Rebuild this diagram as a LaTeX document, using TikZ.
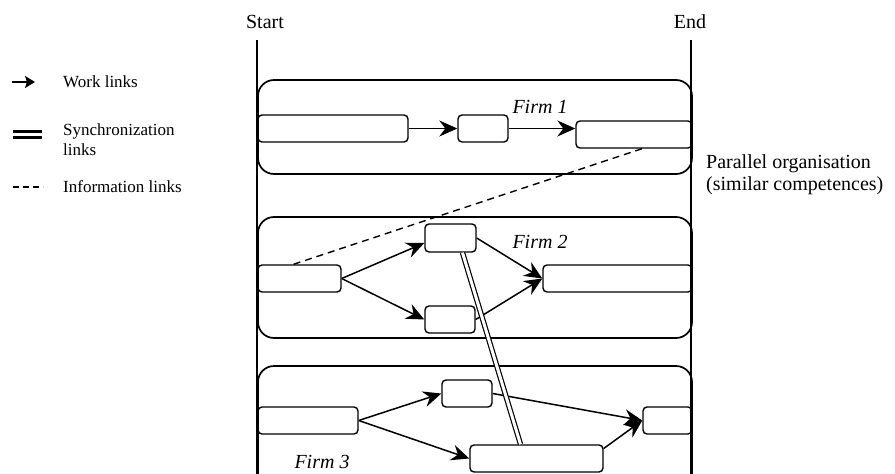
\documentclass[tikz,border=0pt]{standalone}
\usepackage{fontspec}
\setmainfont{Liberation Serif}
\usetikzlibrary{arrows.meta}

\begin{document}
\begin{tikzpicture}[x=1pt, y=-1pt,
    firm/.style = {draw, line width=1.7pt, rounded corners=16pt},
    task/.style = {draw, line width=1.4pt, rounded corners=4pt, minimum height=27pt, inner sep=0pt},
    work/.style = {line width=1.5pt, -{Stealth[length=18pt, width=16pt, inset=6pt]}},
    sync/.style = {double, double distance=3pt, line width=1.2pt},
    info/.style = {line width=1.4pt, dash pattern=on 7pt off 5pt},
    lbl/.style = {font=\fontsize{17}{20}\selectfont, align=left, anchor=west, inner sep=0pt},
    big/.style = {font=\fontsize{20}{22}\selectfont, inner sep=0pt},
    firmlbl/.style = {font=\fontsize{20}{22}\selectfont\itshape, inner sep=0pt}]
    \useasboundingbox (0,0) rectangle (895,474);
    \clip (0,0) rectangle (895,474);

    \draw[firm] (258,80) rectangle (692,174);
    \draw[firm] (258,217) rectangle (692,338);
    \draw[firm] (258,366) rectangle (692,510);

    \node[big](start) at (265,22) {Start};
    \node[big](end) at (690,22) {End};
    \coordinate (s1) at (257,40);
    \coordinate (s2) at (257,474);
    \coordinate (e1) at (691,40);
    \coordinate (e2) at (691,474);
    \draw[line width=2.2pt] (s1) -- (s2);
    \draw[line width=2.2pt] (e1) -- (e2);

    \node[task, minimum width=150pt](a1) at (333,128.5) {};
    \node[task, minimum width=50pt](a2) at (483,128.5) {};
    \node[task, minimum width=116pt](a3) at (634,134.5) {};
    \node[firmlbl](f1) at (540,107) {Firm 1};

    \node[task, minimum width=83pt](b1) at (299.5,278.5) {};
    \node[task, minimum width=51pt, minimum height=28pt](b2) at (450.5,238) {};
    \node[task, minimum width=50pt](b3) at (450,319.5) {};
    \node[task, minimum width=149pt](b4) at (617.5,278.5) {};
    \node[firmlbl](f2) at (540,242) {Firm 2};

    \node[task, minimum width=100pt](c1) at (308,420.5) {};
    \node[task, minimum width=50pt](c2) at (467,393.5) {};
    \node[task, minimum width=133pt](c3) at (536.5,458.5) {};
    \node[task, minimum width=49pt](c4) at (667.5,420.5) {};
    \node[firmlbl](f3) at (322,462) {Firm 3};

    \draw[work] (a1) -- (a2);
    \draw[work] (a2.east) -- (a2.east -| a3.west);
    \draw[work] (b1.east) -- ([yshift=-5pt]b2.west);
    \draw[work] (b1.east) -- (b3.west);
    \draw[work] (b2.east) -- (b4.west);
    \draw[work] (b3.east) -- (b4.west);
    \draw[work] (c1.east) -- (c2.west);
    \draw[work] (c1.east) -- (c3.west);
    \draw[work] (c2.east) -- (c4.west);
    \draw[work] ([yshift=10pt]c3.east) -- (c4.west);

    \draw[info] ([xshift=8pt]a3.south) -- ([xshift=-6pt]b1.north);
    \draw[sync] ([xshift=12pt]b2.south) -- ([xshift=-16pt]c3.north);

    \coordinate (lw1) at (12,82);
    \coordinate (lw2) at (35,82);
    \draw[line width=1.8pt, -{Stealth[length=10pt, width=12pt, inset=2pt]}] (lw1) -- (lw2);
    \node[lbl](lwt) at (63,82) {Work links};
    \coordinate (ls1) at (13,134.5);
    \coordinate (ls2) at (42,134.5);
    \draw[double, double distance=2.5pt, line width=2.8pt] (ls1) -- (ls2);
    \node[lbl, anchor=north west](lst) at (63,124) {Synchronization\\links};
    \coordinate (li1) at (13,187);
    \coordinate (li2) at (43,187);
    \draw[line width=1.8pt, dash pattern=on 6pt off 4pt] (li1) -- (li2);
    \node[lbl](lit) at (63,187) {Information links};

    \node[big, align=left, anchor=west](par) at (706,175) {Parallel organisation\\(similar competences)};
\end{tikzpicture}
\end{document}
